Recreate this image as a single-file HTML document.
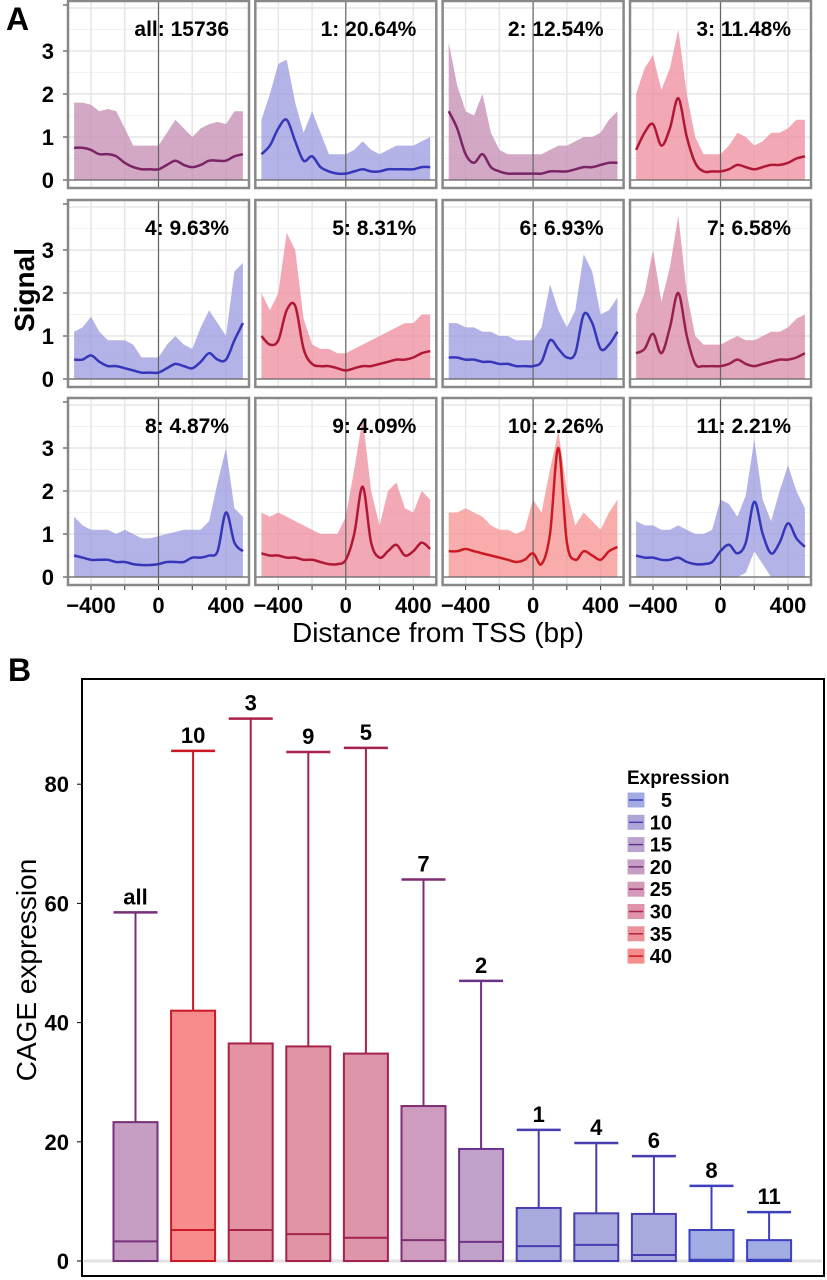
<!DOCTYPE html>
<html><head><meta charset="utf-8">
<style>
html,body{margin:0;padding:0;background:#fff;}
svg{display:block;font-family:"Liberation Sans",Arial,sans-serif;}
</style></head>
<body>
<svg id="fig" width="827" height="1280" viewBox="0 0 827 1280" xmlns="http://www.w3.org/2000/svg">
<text x="6" y="30" font-size="32" font-weight="bold">A</text>
<text x="8" y="681" font-size="32" font-weight="bold">B</text>
<text transform="translate(34,290) rotate(-90)" text-anchor="middle" font-size="28" font-weight="bold">Signal</text>
<text x="438" y="642" text-anchor="middle" font-size="28">Distance from TSS (bp)</text>
<text transform="translate(36,970) rotate(-90)" text-anchor="middle" font-size="28">CAGE expression</text>
<g id="panelsA"></g>
<g id="panelB"></g>
</svg>
<script>
const NS="http://www.w3.org/2000/svg";
// ---- Panel A data ----
const bpPositions=[-500,-450,-400,-350,-300,-250,-200,-150,-100,-50,0,50,100,150,200,250,300,350,400,450,500];
const panelTitles=["all: 15736","1: 20.64%","2: 12.54%","3: 11.48%","4: 9.63%","5: 8.31%","6: 6.93%","7: 6.58%","8: 4.87%","9: 4.09%","10: 2.26%","11: 2.21%"];
const panelColors=["purple","blue","purple","red","blue","red","blue","redpurple","blue","red","brightred","blue"];
const meanAll=[0.75,0.75,0.7,0.6,0.6,0.55,0.4,0.3,0.25,0.25,0.25,0.35,0.45,0.35,0.3,0.35,0.45,0.45,0.45,0.55,0.6];
const upperAll=[1.8,1.8,1.75,1.6,1.65,1.6,1.2,0.8,0.8,0.8,0.8,1.1,1.4,1.2,1.0,1.2,1.3,1.35,1.3,1.6,1.6];
const mean1=[0.6,0.8,1.2,1.4,0.9,0.45,0.55,0.3,0.2,0.15,0.15,0.2,0.25,0.2,0.2,0.25,0.25,0.25,0.25,0.3,0.3];
const upper1=[1.4,2.0,2.7,2.8,1.8,1.1,1.6,1.1,0.6,0.6,0.6,0.7,0.9,0.7,0.6,0.7,0.8,0.8,0.8,0.9,1.0];
const mean2=[1.6,1.2,0.6,0.4,0.6,0.3,0.2,0.15,0.15,0.15,0.15,0.15,0.2,0.2,0.2,0.25,0.3,0.3,0.35,0.4,0.4];
const upper2=[3.2,2.2,1.6,1.5,2.0,1.1,0.7,0.6,0.6,0.6,0.6,0.6,0.7,0.8,0.8,0.9,1.0,1.0,1.1,1.4,1.6];
const mean3=[0.7,1.1,1.3,0.8,1.2,1.9,1.0,0.4,0.2,0.2,0.2,0.25,0.35,0.3,0.25,0.3,0.35,0.35,0.4,0.5,0.55];
const upper3=[2.0,2.6,2.9,2.1,2.6,3.5,2.0,1.0,0.6,0.6,0.6,0.8,1.1,1.0,0.8,0.9,1.1,1.1,1.2,1.4,1.4];
const mean4=[0.45,0.45,0.55,0.4,0.3,0.3,0.25,0.2,0.15,0.15,0.15,0.25,0.35,0.3,0.25,0.4,0.6,0.45,0.45,0.9,1.3];
const upper4=[1.1,1.2,1.45,1.1,0.9,0.9,0.9,0.8,0.5,0.5,0.5,0.8,1.0,0.8,0.7,1.2,1.6,1.3,1.0,2.5,2.7];
const mean5=[1.0,0.8,0.9,1.6,1.7,0.7,0.35,0.3,0.3,0.25,0.2,0.25,0.3,0.3,0.35,0.4,0.45,0.45,0.5,0.6,0.65];
const upper5=[2.0,1.6,2.0,3.4,3.0,1.4,0.8,0.7,0.7,0.6,0.6,0.7,0.8,0.9,1.0,1.1,1.2,1.3,1.3,1.5,1.5];
const mean6=[0.5,0.5,0.45,0.45,0.4,0.4,0.35,0.35,0.3,0.3,0.3,0.4,0.9,0.7,0.5,0.6,1.5,1.3,0.7,0.8,1.1];
const upper6=[1.3,1.3,1.2,1.2,1.1,1.1,1.0,1.0,0.9,0.9,0.9,1.2,2.2,1.6,1.2,1.6,2.9,2.5,1.5,1.6,1.9];
const mean7=[0.6,0.7,1.05,0.6,1.2,2.0,1.0,0.35,0.3,0.3,0.3,0.35,0.45,0.35,0.3,0.35,0.4,0.45,0.45,0.5,0.6];
const upper7=[1.5,2.0,3.0,1.8,2.6,3.8,2.0,1.0,0.8,0.8,0.8,0.9,1.0,0.9,0.9,1.0,1.1,1.1,1.2,1.4,1.5];
const mean8=[0.5,0.45,0.4,0.4,0.4,0.35,0.35,0.3,0.28,0.28,0.3,0.35,0.35,0.35,0.45,0.45,0.5,0.6,1.5,0.8,0.6];
const upper8=[1.4,1.2,1.1,1.1,1.1,1.0,1.1,1.0,0.9,0.9,0.95,1.0,1.05,1.1,1.1,1.1,1.3,2.2,3.0,1.6,1.4];
const mean9=[0.55,0.5,0.5,0.45,0.45,0.4,0.4,0.35,0.3,0.3,0.4,1.0,2.1,0.8,0.45,0.6,0.75,0.5,0.6,0.8,0.65];
const upper9=[1.5,1.4,1.5,1.4,1.3,1.2,1.1,1.0,1.0,1.0,1.4,2.5,3.7,2.0,1.2,2.0,2.2,1.6,1.5,2.0,1.8];
const mean10=[0.6,0.6,0.65,0.6,0.55,0.5,0.45,0.4,0.35,0.4,0.55,0.3,1.0,3.0,0.8,0.4,0.6,0.5,0.4,0.6,0.7];
const upper10=[1.5,1.5,1.6,1.5,1.4,1.2,1.1,1.1,1.0,1.1,1.8,1.5,2.5,3.4,2.0,1.2,1.5,1.3,1.1,1.5,1.8];
const mean11=[0.5,0.45,0.45,0.4,0.4,0.45,0.35,0.3,0.3,0.35,0.6,0.75,0.55,0.8,1.75,1.0,0.55,0.8,1.25,0.9,0.7];
const upper11=[1.3,1.2,1.2,1.1,1.1,1.2,1.1,1.0,1.0,1.1,1.8,1.7,1.4,1.9,3.2,1.8,1.3,2.0,2.6,2.0,1.6];
const lower11=[0,0,0,0,0,0,0,0,0,0,0,0,0,0.1,0.6,0.3,0,0,0,0,0];
const zeros=[0,0,0,0,0,0,0,0,0,0,0,0,0,0,0,0,0,0,0,0,0];
const panelMeans=[meanAll,mean1,mean2,mean3,mean4,mean5,mean6,mean7,mean8,mean9,mean10,mean11];
const panelUppers=[upperAll,upper1,upper2,upper3,upper4,upper5,upper6,upper7,upper8,upper9,upper10,upper11];
const panelLowers=[zeros,zeros,zeros,zeros,zeros,zeros,zeros,zeros,zeros,zeros,zeros,lower11];
const yTicksA=[0,1,2,3];
const xTicksA=[-400,0,400];
// ---- Panel B data ----
const boxNames=["all","10","3","9","5","7","2","1","4","6","8","11"];
const boxMedians=[3.3,5.2,5.2,4.5,3.9,3.5,3.2,2.5,2.7,1.0,0.2,0.2];
const boxQ3=[23.3,42,36.5,36,34.8,26,18.8,8.9,8.0,7.9,5.2,3.5];
const boxWhiskerTop=[58.5,85.6,91,85.4,86.1,64,47,22,19.8,17.6,12.6,8.2];
const boxExpression=[20,40,32,31,30,22,17,8,8,8,5,5];
const yTicksB=[0,20,40,60,80];
const legendLevels=[5,10,15,20,25,30,35,40];

const palettes={
 purple:{fill:"#c48bb0",line:"#7a2466"},
 blue:{fill:"#9a9ae0",line:"#3636b8"},
 red:{fill:"#ee8c9c",line:"#b01836"},
 redpurple:{fill:"#d88aa6",line:"#98204e"},
 brightred:{fill:"#f69090",line:"#cc1a22"}
};
function el(tag,attrs,parent){const e=document.createElementNS(NS,tag);for(const k in attrs)e.setAttribute(k,attrs[k]);parent.appendChild(e);return e;}
function smoothPath(pts){let d="M"+pts[0][0]+","+pts[0][1];for(let i=0;i<pts.length-1;i++){const p0=pts[Math.max(0,i-1)],p1=pts[i],p2=pts[i+1],p3=pts[Math.min(pts.length-1,i+2)];const c1=[p1[0]+(p2[0]-p0[0])/6,p1[1]+(p2[1]-p0[1])/6],c2=[p2[0]-(p3[0]-p1[0])/6,p2[1]-(p3[1]-p1[1])/6];d+=" C"+c1[0].toFixed(1)+","+c1[1].toFixed(1)+" "+c2[0].toFixed(1)+","+c2[1].toFixed(1)+" "+p2[0].toFixed(1)+","+p2[1].toFixed(1);}return d;}

const gA=document.getElementById("panelsA");
const colLeft=[67,254.3,441.6,629],panelW=183;
const rowBottom=[189,388,586],unitPx=43;
for(let p=0;p<12;p++){
 const c=p%4,r=Math.floor(p/4);
 const left=colLeft[c],bottom=rowBottom[r],top=bottom-189,zeroY=bottom-9;
 const xS=bp=>left+91.5+bp*67.5/400;
 const yS=v=>zeroY-v*unitPx;
 const g=el("g",{},gA);
 
 
 el("rect",{x:left,y:top,width:panelW,height:189,fill:"#fff"},g);
 for(let v=0;v<=4;v+=0.5){el("line",{x1:left,x2:left+panelW,y1:yS(v),y2:yS(v),stroke:v%1?"#f3f3f3":"#e6e6e6","stroke-width":v%1?1:1.5},g);}
 for(let b=-400;b<=400;b+=200){el("line",{x1:xS(b),x2:xS(b),y1:top,y2:bottom,stroke:"#e6e6e6","stroke-width":1.5},g);}
 const pal=palettes[panelColors[p]];
 const up=panelUppers[p].map((v,i)=>[xS(bpPositions[i]),yS(v)]);
 const lo=panelLowers[p].map((v,i)=>[xS(bpPositions[i]),yS(v)]).reverse();
 const band=el("polygon",{points:up.concat(lo).map(q=>q[0].toFixed(1)+","+q[1].toFixed(1)).join(" "),fill:pal.fill,"fill-opacity":0.75},g);
 
 
 el("line",{x1:xS(0),x2:xS(0),y1:top,y2:bottom,stroke:"#666","stroke-width":1.2},g);
 el("line",{x1:left,x2:left+panelW,y1:zeroY,y2:zeroY,stroke:"#666","stroke-width":1.2},g);
 const mp=panelMeans[p].map((v,i)=>[xS(bpPositions[i]),yS(v)]);
 const ln=el("path",{d:smoothPath(mp),fill:"none",stroke:pal.line,"stroke-width":2.5},g);
 
 
 el("rect",{x:left+1,y:top+1,width:panelW-2,height:187,fill:"none",stroke:"#888","stroke-width":2.5},g);
 const t=el("text",{x:left+panelW-21,y:top+36,"text-anchor":"end","font-size":21,"font-weight":"bold"},g);
 t.textContent=panelTitles[p];
 
 
 if(c===0){
  el("line",{x1:63,x2:67,y1:yS(4.07),y2:yS(4.07),stroke:"#333"},g);
  yTicksA.forEach(v=>{el("line",{x1:63,x2:67,y1:yS(v),y2:yS(v),stroke:"#333"},g);
   const tl=el("text",{x:54,y:yS(v)+8,"text-anchor":"end","font-size":22,"font-weight":"bold"},g);tl.textContent=v;
   
   });
 }
 if(r===2){
  for(let b=-400;b<=400;b+=200)el("line",{x1:xS(b),x2:xS(b),y1:bottom,y2:bottom+4,stroke:"#333"},g);
  xTicksA.forEach(b=>{const tl=el("text",{x:xS(b),y:613,"text-anchor":"middle","font-size":22,"font-weight":"bold"},g);tl.textContent=(b<0?"\u2212":"")+Math.abs(b);
   
   });
 }
}

// ---- Panel B ----
const gB=document.getElementById("panelB");
const yB=v=>1261-v*5.96;
const xB=i=>135.5+i*57.6;
el("rect",{x:82,y:679,width:742,height:597,fill:"#fff",stroke:"#000","stroke-width":2},gB);
el("line",{x1:84,x2:822,y1:yB(0),y2:yB(0),stroke:"#e2e2e2","stroke-width":3},gB);
yTicksB.forEach(v=>{el("line",{x1:77,x2:82,y1:yB(v),y2:yB(v),stroke:"#000"},gB);
 const tl=el("text",{x:69,y:yB(v)+8,"text-anchor":"end","font-size":22,"font-weight":"bold"},gB);tl.textContent=v;
 
 });
function exprColor(e){const t=Math.max(0,Math.min(1,(e-5)/35));
 const fa=[160,172,226],fm=[206,156,190],fb=[246,140,140];
 const la=[60,64,190],lm=[128,44,110],lb=[204,24,36];
 const mix=(a,m,b)=>t<0.5?a.map((x,k)=>Math.round(x+(m[k]-x)*t*2)):m.map((x,k)=>Math.round(x+(b[k]-x)*(t-0.5)*2));
 return {fill:"rgb("+mix(fa,fm,fb).join(",")+")",line:"rgb("+mix(la,lm,lb).join(",")+")"};}
for(let i=0;i<boxNames.length;i++){
 const cx=xB(i),col=exprColor(boxExpression[i]);
 const g=el("g",{},gB);
 
 
 el("line",{x1:cx,x2:cx,y1:yB(boxWhiskerTop[i]),y2:yB(boxQ3[i]),stroke:col.line,"stroke-width":2},g);
 el("line",{x1:cx-22,x2:cx+22,y1:yB(boxWhiskerTop[i]),y2:yB(boxWhiskerTop[i]),stroke:col.line,"stroke-width":2.5},g);
 el("rect",{x:cx-22,y:yB(boxQ3[i]),width:44,height:yB(0)-yB(boxQ3[i]),fill:col.fill,stroke:col.line,"stroke-width":2},g);
 el("line",{x1:cx-22,x2:cx+22,y1:yB(boxMedians[i]),y2:yB(boxMedians[i]),stroke:col.line,"stroke-width":2},g);
 const t=el("text",{x:cx,y:yB(boxWhiskerTop[i])-8,"text-anchor":"middle","font-size":22,"font-weight":"bold"},g);
 t.textContent=boxNames[i];
 
 
}
const lg=el("g",{},gB);


const lt=el("text",{x:627,y:784,"font-size":19,"font-weight":"bold"},lg);lt.textContent="Expression";
legendLevels.forEach((v,k)=>{const y=800+k*22.3,col=exprColor(v);
 const e=el("g",{},lg);
 
 
 el("rect",{x:628,y:y-7,width:16,height:14,fill:col.fill,stroke:col.fill,"stroke-width":1},e);
 el("line",{x1:629,x2:643,y1:y,y2:y,stroke:col.line,"stroke-width":1.5},e);
 const t=el("text",{x:672,y:y+7,"text-anchor":"end","font-size":20,"font-weight":"bold"},e);t.textContent=v;});
</script>
</body></html>
